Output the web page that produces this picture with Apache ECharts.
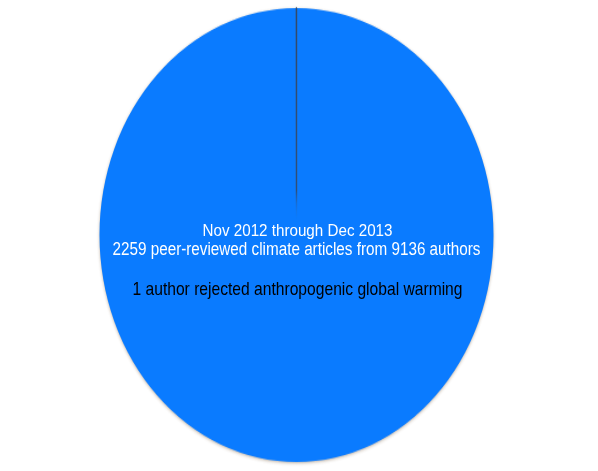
<!DOCTYPE html>
<html><head><meta charset="utf-8">
<script src="https://cdn.jsdelivr.net/npm/echarts@6/dist/echarts.min.js"></script>
<style>
html,body{margin:0;padding:0;background:#fff;}
#wrap{position:relative;width:598px;height:471px;overflow:hidden;}
#pie{position:absolute;left:0;top:0;width:598px;height:471px;transform-origin:296.5px 235px;transform:scaleY(1.152);}
#txt{position:absolute;left:0;top:0;width:598px;height:471px;}
</style></head>
<body><div id="wrap"><div id="pie"></div><div id="txt"></div></div>
<script>
const categories = ['Accepted / no rejection', 'Rejected anthropogenic global warming'];
const authorCounts = [9135, 1];
const textLines = ['Nov 2012 through Dec 2013', '2259 peer-reviewed climate articles from 9136 authors', '1 author rejected anthropogenic global warming'];

const lineGrad = () => new echarts.graphic.LinearGradient(0, 0, 0, 1, [
  {offset:0, color:'rgba(52,74,104,1)'},
  {offset:0.8, color:'rgba(52,74,104,0.9)'},
  {offset:0.94, color:'rgba(10,123,255,0)'},
  {offset:1, color:'rgba(10,123,255,0)'}
]);

const pie = echarts.init(document.getElementById('pie'), null, {renderer:'canvas'});
pie.setOption({
  animation:false,
  series:[{
    type:'pie',
    center:[296.5,235],
    radius:197,
    startAngle:90,
    clockwise:true,
    label:{show:false},
    labelLine:{show:false},
    emphasis:{disabled:true},
    data: categories.map((c,i)=>({
      name:c, value:authorCounts[i],
      itemStyle: i===1 ? {color:lineGrad(), borderColor:lineGrad(), borderWidth:1.4} :
        {color:'#0a7bff', borderWidth:0, shadowBlur:3, shadowColor:'rgba(120,90,60,0.45)', shadowOffsetY:1}
    }))
  }]
});

const F = '"Liberation Sans", Arial, sans-serif';
const cv = document.createElement('canvas').getContext('2d');
function fit(text, size, width){ cv.font = size + 'px ' + F; return width / cv.measureText(text).width; }
const txt = echarts.init(document.getElementById('txt'), null, {renderer:'canvas'});
txt.setOption({
  animation:false,
  graphic:[
    {type:'text', x:297.5, y:222.5, scaleX:fit(textLines[0],17,190), style:{text:textLines[0], fill:'#ffffff', font:'17px '+F, align:'center', verticalAlign:'top'}},
    {type:'text', x:296.5, y:241, scaleX:fit(textLines[1],18,368), style:{text:textLines[1], fill:'#ffffff', font:'18px '+F, align:'center', verticalAlign:'top'}},
    {type:'text', x:297.5, y:280, scaleX:fit(textLines[2],19,330), style:{text:textLines[2], fill:'#000000', font:'19px '+F, align:'center', verticalAlign:'top'}}
  ]
});
</script></body></html>
